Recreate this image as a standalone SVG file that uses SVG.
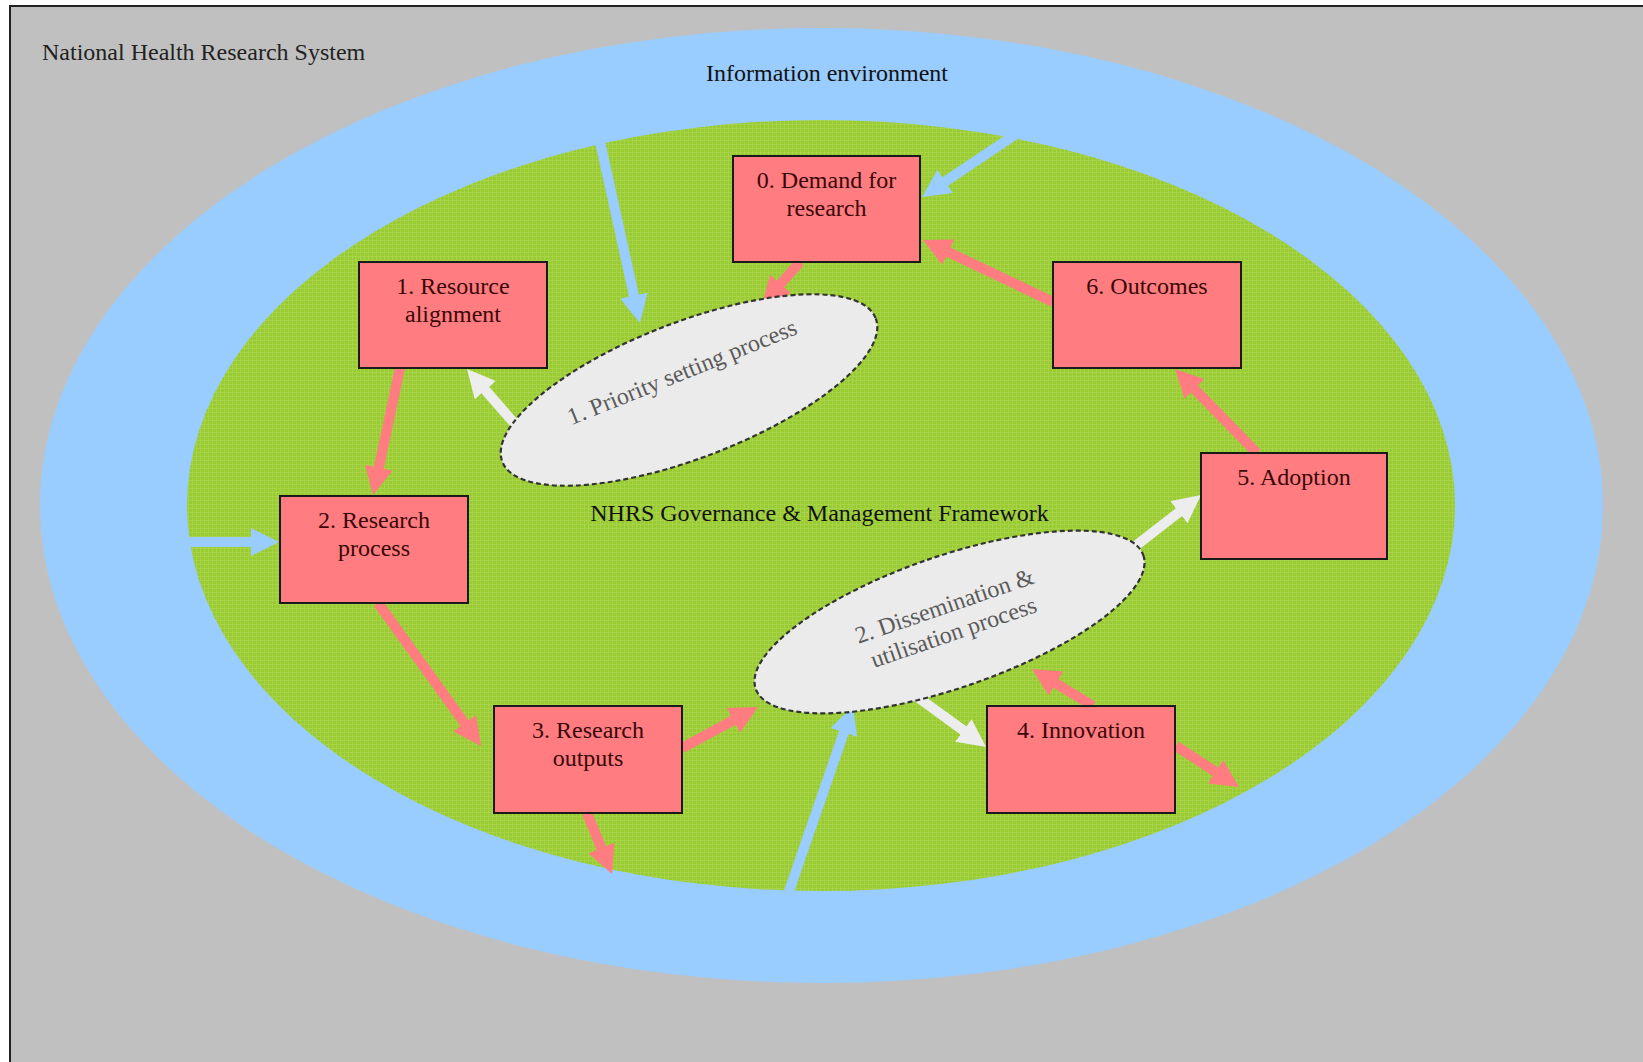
<svg xmlns="http://www.w3.org/2000/svg" width="1643" height="1062" viewBox="0 0 1643 1062">
<style>
.lbl{font-family:"Liberation Serif","Times New Roman",serif;font-size:24px;}
.box{fill:#FF7C80;stroke:#1a1a1a;stroke-width:2;}
.btxt{fill:#3a0808;text-anchor:middle;}
.proc{fill:#EBEBEB;stroke:#333;stroke-width:2.2;stroke-dasharray:5 3;}
.ptxt{fill:#5a5a5a;text-anchor:middle;}
.blue{stroke:#99CCFF;stroke-width:10;fill:none;marker-end:url(#hb);}
.pink{stroke:#FF7C80;stroke-width:10;fill:none;marker-end:url(#hp);}
.white{stroke:#EDEDED;stroke-width:10;fill:none;marker-end:url(#hw);}
</style>
<defs>
<pattern id="grid" width="4" height="4" patternUnits="userSpaceOnUse">
<rect width="4" height="4" fill="#99CC33"/>
<path d="M0 0.5H4M0.5 0V4" stroke="#A8D24A" stroke-width="1"/>
</pattern>
<marker id="hb" markerUnits="userSpaceOnUse" viewBox="0 0 28 28" markerWidth="28" markerHeight="28" refX="10" refY="14" orient="auto"><path d="M0 0L28 14L0 28z" fill="#99CCFF"/></marker>
<marker id="hp" markerUnits="userSpaceOnUse" viewBox="0 0 28 28" markerWidth="28" markerHeight="28" refX="10" refY="14" orient="auto"><path d="M0 0L28 14L0 28z" fill="#FF7C80"/></marker>
<marker id="hw" markerUnits="userSpaceOnUse" viewBox="0 0 28 28" markerWidth="28" markerHeight="28" refX="10" refY="14" orient="auto"><path d="M0 0L28 14L0 28z" fill="#EDEDED"/></marker>
</defs>
<rect width="1643" height="1062" fill="#ffffff"/>
<rect id="frame" x="10" y="6" width="1640" height="1070" fill="#C0C0C0" stroke="#222" stroke-width="2"/>
<ellipse id="info-env" cx="821.5" cy="505.5" rx="781.5" ry="477.5" fill="#99CCFF"/>
<ellipse id="framework" cx="821" cy="505.5" rx="634" ry="385.5" fill="url(#grid)"/>
<text class="lbl" font-family="Liberation Serif, serif" x="42" y="60" fill="#222">National Health Research System</text>
<text class="lbl" font-family="Liberation Serif, serif" x="827" y="81" fill="#111" text-anchor="middle">Information environment</text>
<text class="lbl" font-family="Liberation Serif, serif" x="819.5" y="521" fill="#111" text-anchor="middle">NHRS Governance &amp; Management Framework</text>
<g id="connectors">
<line class="blue" x1="597" y1="128" x2="636.1" y2="305.4"/>
<line class="blue" x1="1022" y1="130" x2="937" y2="187"/>
<line class="blue" x1="185" y1="542" x2="261" y2="542"/>
<line class="blue" x1="786" y1="900" x2="847.1" y2="723"/>
<line class="pink" x1="800" y1="262" x2="773.9" y2="291.5"/>
<line class="pink" x1="1053" y1="302" x2="939.3" y2="247.8"/>
<line class="pink" x1="1257" y1="453" x2="1187.6" y2="381.9"/>
<line class="pink" x1="400" y1="368" x2="376.7" y2="477.4"/>
<line class="pink" x1="378" y1="603" x2="470.5" y2="731.4"/>
<line class="pink" x1="682" y1="748" x2="742.2" y2="715.5"/>
<line class="pink" x1="587" y1="813" x2="605.2" y2="857.3"/>
<line class="pink" x1="1093" y1="706" x2="1047.4" y2="678.3"/>
<line class="pink" x1="1176" y1="746" x2="1223.9" y2="777.2"/>
<line class="white" x1="520" y1="430" x2="478.8" y2="382.6"/>
<line class="white" x1="1120" y1="558" x2="1186.8" y2="506.1"/>
<line class="white" x1="905" y1="688" x2="971.5" y2="736.4"/>
</g>
<g id="priority-setting">
<ellipse class="proc" cx="0" cy="0" rx="200" ry="68" transform="translate(689,390) rotate(-21)"/>
<text class="lbl ptxt" font-family="Liberation Serif, serif" transform="translate(682,372) rotate(-22)" x="0" y="8">1. Priority setting process</text>
</g>
<g id="dissemination">
<ellipse class="proc" cx="0" cy="0" rx="205" ry="66" transform="translate(949.5,622) rotate(-19)"/>
<text class="lbl ptxt" font-family="Liberation Serif, serif" transform="translate(949,619) rotate(-19)"><tspan x="0" y="-6">2. Dissemination &amp;</tspan><tspan x="0" y="22">utilisation process</tspan></text>
</g>
<g id="box0"><rect class="box" x="733" y="156" width="187" height="106"/><text class="lbl btxt" font-family="Liberation Serif, serif"><tspan x="826.5" y="188">0. Demand for</tspan><tspan x="826.5" y="216">research</tspan></text></g>
<g id="box1"><rect class="box" x="359" y="262" width="188" height="106"/><text class="lbl btxt" font-family="Liberation Serif, serif"><tspan x="453" y="294">1. Resource</tspan><tspan x="453" y="322">alignment</tspan></text></g>
<g id="box2"><rect class="box" x="280" y="496" width="188" height="107"/><text class="lbl btxt" font-family="Liberation Serif, serif"><tspan x="374" y="528">2. Research</tspan><tspan x="374" y="556">process</tspan></text></g>
<g id="box3"><rect class="box" x="494" y="706" width="188" height="107"/><text class="lbl btxt" font-family="Liberation Serif, serif"><tspan x="588" y="738">3. Research</tspan><tspan x="588" y="766">outputs</tspan></text></g>
<g id="box4"><rect class="box" x="987" y="706" width="188" height="107"/><text class="lbl btxt" font-family="Liberation Serif, serif" x="1081" y="738">4. Innovation</text></g>
<g id="box5"><rect class="box" x="1201" y="453" width="186" height="106"/><text class="lbl btxt" font-family="Liberation Serif, serif" x="1294" y="485">5. Adoption</text></g>
<g id="box6"><rect class="box" x="1053" y="262" width="188" height="106"/><text class="lbl btxt" font-family="Liberation Serif, serif" x="1147" y="294">6. Outcomes</text></g>
</svg>
